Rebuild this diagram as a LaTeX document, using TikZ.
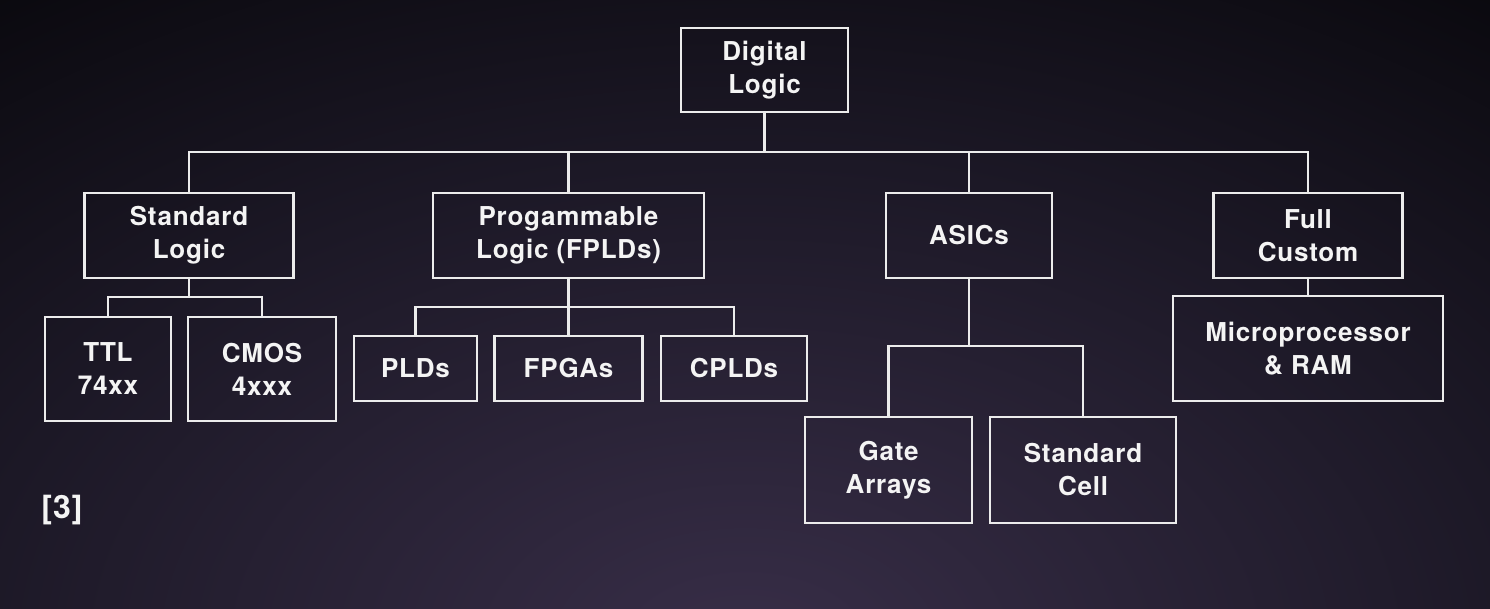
\documentclass[tikz,border=0pt]{standalone}
\usepackage{fontspec}
\setmainfont{TeX Gyre Heros}[LetterSpace=3]
\definecolor{bgin}{RGB}{56,46,72}
\definecolor{bgmid}{RGB}{28,24,38}
\definecolor{bgout}{RGB}{3,3,5}
\definecolor{linec}{RGB}{236,236,236}
\definecolor{textc}{RGB}{244,244,244}
\pgfdeclareradialshading{bgshade}{\pgfpoint{0bp}{0bp}}{color(0bp)=(bgin); color(13bp)=(bgmid); color(25bp)=(bgout); color(50bp)=(bgout)}
\begin{document}
\begin{tikzpicture}[x=1pt,y=-1pt,
  box/.style={draw=linec, line width=2.6pt, rectangle, inner sep=0pt, align=center,
    text=textc, font=\fontsize{26}{33}\selectfont\bfseries},
  conn/.style={draw=linec, line width=2.6pt}]
\useasboundingbox (0,0) rectangle (1490,609);
\begin{scope}
\clip (0,0) rectangle (1490,609);
\shade[shading=bgshade] (745,650) ellipse [x radius=1500pt, y radius=940pt];
\end{scope}

\node[box, minimum width=167pt, minimum height=84pt] (dl) at (764.5,70) {Digital\\Logic};

\node[box, minimum width=209pt, minimum height=85pt] (sl) at (189,235.5) {Standard\\Logic};
\node[box, minimum width=271pt, minimum height=85pt] (pl) at (568.5,235.5) {Progammable\\Logic (FPLDs)};
\node[box, minimum width=166pt, minimum height=85pt] (as) at (969,235.5) {ASICs};
\node[box, minimum width=189pt, minimum height=85pt] (fc) at (1308,235.5) {Full\\Custom};

\node[box, minimum width=126pt, minimum height=104pt] (ttl) at (108,369) {TTL\\74xx};
\node[box, minimum width=148pt, minimum height=104pt] (cmos) at (262,369) {CMOS\\4xxx};

\node[box, minimum width=123pt, minimum height=65pt] (plds) at (415.5,368.5) {PLDs};
\node[box, minimum width=148pt, minimum height=65pt] (fpgas) at (568.5,368.5) {FPGAs};
\node[box, minimum width=146pt, minimum height=65pt] (cplds) at (734,368.5) {CPLDs};

\node[box, minimum width=167pt, minimum height=106pt] (ga) at (888.5,470) {Gate\\Arrays};
\node[box, minimum width=186pt, minimum height=106pt] (sc) at (1083,470) {Standard\\Cell};

\node[box, minimum width=270pt, minimum height=105pt] (mp) at (1308,348.5) {Microprocessor\\\& RAM};

\node[text=textc, font=\fontsize{32}{36}\selectfont\bfseries] (ref) at (62,510) {[3]};

\coordinate (b0) at (0,152);
\coordinate (b1) at (0,297);
\coordinate (b2) at (0,307);
\coordinate (b3) at (0,346);

\draw[conn] (dl.south) -- (dl.south |- b0) -| (sl.north);
\draw[conn] (dl.south) -- (dl.south |- b0) -| (pl.north);
\draw[conn] (dl.south) -- (dl.south |- b0) -| (as.north);
\draw[conn] (dl.south) -- (dl.south |- b0) -| (fc.north);

\draw[conn] (sl.south) -- (sl.south |- b1) -| (ttl.north);
\draw[conn] (sl.south) -- (sl.south |- b1) -| (cmos.north);

\draw[conn] (pl.south) -- (pl.south |- b2) -| (plds.north);
\draw[conn] (pl.south) -- (fpgas.north);
\draw[conn] (pl.south) -- (pl.south |- b2) -| (cplds.north);

\draw[conn] (as.south) -- (as.south |- b3) -| (ga.north);
\draw[conn] (as.south) -- (as.south |- b3) -| (sc.north);

\draw[conn] (fc.south) -- (mp.north);
\end{tikzpicture}
\end{document}
